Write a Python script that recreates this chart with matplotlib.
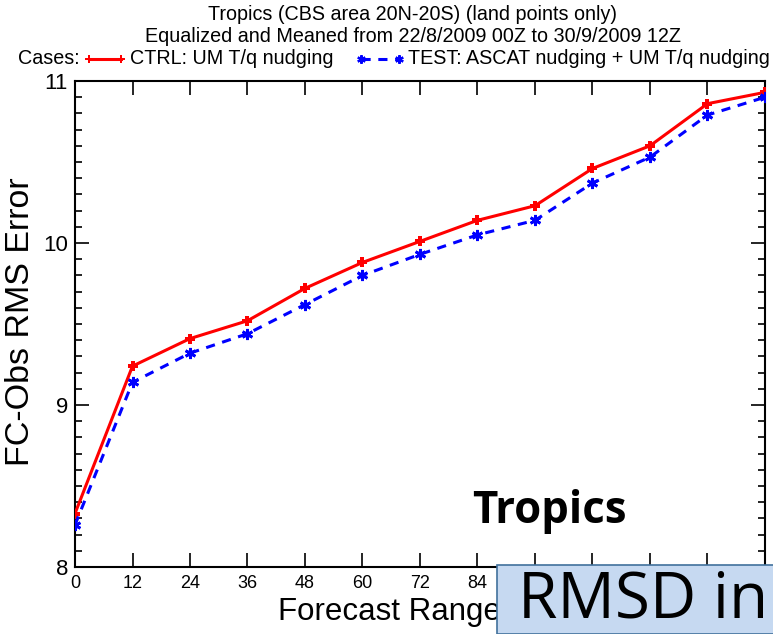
import matplotlib
matplotlib.use("Agg")
import matplotlib.pyplot as plt
from matplotlib.patches import Rectangle
from matplotlib.lines import Line2D
import numpy as np

hours = [0, 12, 24, 36, 48, 60, 72, 84, 96, 108, 120, 132, 144]
ctrl = [8.33, 9.24, 9.41, 9.52, 9.72, 9.88, 10.01, 10.14, 10.23, 10.46, 10.60, 10.86, 10.93]
test = [8.26, 9.14, 9.32, 9.44, 9.62, 9.80, 9.93, 10.05, 10.14, 10.37, 10.53, 10.79, 10.90]
xticks = [0, 12, 24, 36, 48, 60, 72, 84]
yticks = [8, 9, 10, 11]

NARROW = ['Liberation Sans Narrow', 'Liberation Sans', 'DejaVu Sans']
ARIAL = ['Liberation Sans', 'DejaVu Sans']

fig = plt.figure(figsize=(7.73, 6.34), dpi=100)
ax = fig.add_axes([75/773, 1-567/634, 690/773, (567-81)/634])

ax.plot(hours, ctrl, color='#FF0000', lw=2.2, marker='P', ms=7.5, mew=0, zorder=3)
ax.plot(hours, test, color='#0000FF', lw=2.2, ls=(0, (3, 2.5)), marker=(6, 2, 0), ms=8, mew=2, zorder=3)

ax.set_xlim(0, 144)
ax.set_ylim(8, 11)
ax.set_xticks(np.arange(0, 145, 12))
ax.set_xticklabels([str(t) if t in xticks else '' for t in range(0, 145, 12)], family=NARROW, fontsize=13)
ax.set_yticks(yticks)
ax.set_yticklabels([str(t) for t in yticks], family=NARROW, fontsize=16)
ax.set_yticks(np.arange(8, 11.01, 0.1), minor=True)
ax.tick_params(which='both', direction='in', top=True, right=True, color='black')
ax.tick_params(which='major', length=10, width=1.2, pad=6)
ax.tick_params(axis='y', which='major', pad=5)
ax.tick_params(which='minor', length=5, width=1.2)
ax.tick_params(axis='x', which='minor', length=0)
for s in ax.spines.values():
    s.set_linewidth(1.5)

fig.text(21/773, 1-322/634, 'FC-Obs RMS Error', family=ARIAL, fontsize=24.5, rotation=90, ha='center', va='center')
fig.text(278/773, 1-612/634, 'Forecast Range', family=ARIAL, fontsize=22.5, ha='left', va='center')

# titles
TS = 14.2
fig.text(413/773, 1-15/634, 'Tropics (CBS area 20N-20S) (land points only)', family=NARROW, fontsize=TS, ha='center', va='center')
fig.text(413/773, 1-36/634, 'Equalized and Meaned from 22/8/2009 00Z to 30/9/2009 12Z', family=NARROW, fontsize=TS, ha='center', va='center')

# legend row
ly = 1-59/634
fig.text(18/773, ly, 'Cases:', family=NARROW, fontsize=TS, ha='left', va='center')
fig.add_artist(Line2D([89/773, 121/773], [ly, ly], color='#FF0000', lw=2.2, marker='P', ms=6, mew=0, transform=fig.transFigure))
fig.text(130/773, ly, 'CTRL: UM T/q nudging', family=NARROW, fontsize=TS, ha='left', va='center')
fig.add_artist(Line2D([361/773, 399/773], [ly, ly], color='#0000FF', lw=2.2, ls=(0, (3, 2.5)), marker=(6, 2, 0), ms=6, mew=1.6, transform=fig.transFigure))
fig.text(408/773, ly, 'TEST: ASCAT nudging + UM T/q nudging', family=NARROW, fontsize=TS, ha='left', va='center')

# overlays
fig.text(472/773, 1-512/634, 'Tropics', family=['Open Sans', 'DejaVu Sans'], fontweight='bold', fontsize=31.5, ha='left', va='center', color='black')
fig.add_artist(Rectangle((497/773, 0), 1, (634-565)/634, transform=fig.transFigure,
                         facecolor='#C6D9F1', edgecolor='#41719C', lw=1.2, zorder=10))
fig.text(518/773, 1-600/634, 'RMSD in', family=['Open Sans', 'DejaVu Sans'], fontsize=46, ha='left', va='center', color='black', zorder=11)

fig.savefig('out.png', dpi=100)
